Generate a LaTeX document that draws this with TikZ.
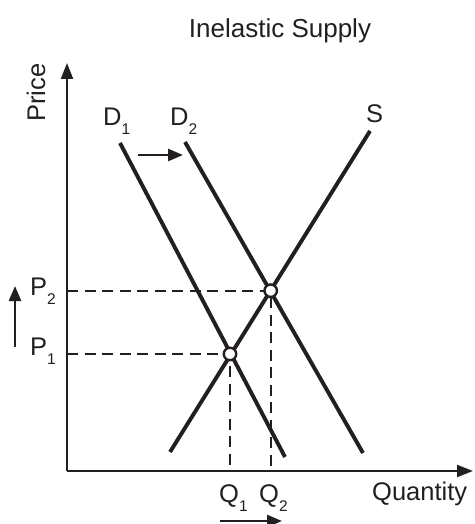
\documentclass[tikz,border=0pt]{standalone}
\usepackage{fontspec}
\setmainfont{Liberation Sans}
\usetikzlibrary{arrows.meta}
\definecolor{ink}{HTML}{231F20}
\newcommand{\sublab}[2]{#1\raisebox{-9pt}{\fontsize{15.5}{15.5}\selectfont #2}}
\tikzset{
  axis/.style={line width=2.3pt, draw=ink, -{Triangle[length=16pt,width=12pt]}},
  curve/.style={line width=3.9pt, draw=ink},
  guide/.style={line width=1.8pt, draw=ink, dash pattern=on 11pt off 6.5pt},
  shiftarrow/.style={line width=2.6pt, draw=ink, -{Triangle[length=15pt,width=12pt]}},
  eq/.style={circle, draw=ink, fill=white, line width=2.4pt, minimum size=12.5pt, inner sep=0pt},
  lab/.style={anchor=base west, inner sep=0pt, text=ink},
}
\begin{document}
\begin{tikzpicture}[x=1pt, y=-1pt, font=\fontsize{25.5}{30}\selectfont]
\useasboundingbox (0,0) rectangle (474,524);
% axes
\coordinate (O) at (67,471);
\coordinate (ytop) at (67,63);
\coordinate (xend) at (473,471);
% equilibria
\coordinate (E1pt) at (230,354);
\coordinate (E2pt) at (270.7,290.7);
\coordinate (P1y) at (67,354);
\coordinate (P2y) at (67,290.7);
\coordinate (Q1x) at (230,471);
\coordinate (Q2x) at (270.7,471);
% curve ends
\coordinate (D1a) at (120,143);
\coordinate (D1b) at (285,457);
\coordinate (D2a) at (185,142);
\coordinate (D2b) at (363,453);
\coordinate (Sa) at (170,452);
\coordinate (Sb) at (370,131);
% guides
\draw[guide] (P2y) -- (E2pt) -- (Q2x);
\draw[guide] (P1y) -- (E1pt) -- (Q1x);
% axes
\draw[axis] (O) -- (ytop);
\draw[axis] (O) -- (xend);
% curves
\draw[curve] (D1a) -- (D1b);
\draw[curve] (D2a) -- (D2b);
\draw[curve] (Sa) -- (Sb);
% equilibrium markers
\node[eq] (E1) at (E1pt) {};
\node[eq] (E2) at (E2pt) {};
% shift arrows
\coordinate (dsA) at (138,155);
\coordinate (dsB) at (183,155);
\coordinate (psA) at (15,347);
\coordinate (psB) at (15,286);
\coordinate (qsA) at (220,521);
\coordinate (qsB) at (282,521);
\draw[shiftarrow] (dsA) -- (dsB);
\draw[shiftarrow] (psA) -- (psB);
\draw[shiftarrow] (qsA) -- (qsB);
% labels
\node[anchor=base, inner sep=0pt, text=ink, font=\fontsize{26}{30}\selectfont] (title) at (280,38) {Inelastic Supply};
\node[rotate=90, anchor=base, inner sep=0pt, text=ink] (price) at (45,92.5) {Price};
\node[lab] (qty) at (372,500) {Quantity};
\node[lab] (d1) at (103,125) {\sublab{D}{1}};
\node[lab] (d2) at (170,125) {\sublab{D}{2}};
\node[lab] (s) at (366,122) {S};
\node[lab] (p2) at (30,295) {\sublab{P}{2}};
\node[lab] (p1) at (30,355) {\sublab{P}{1}};
\node[lab] (q1) at (219,502) {\sublab{Q}{1}};
\node[lab] (q2) at (259,502) {\sublab{Q}{2}};
\end{tikzpicture}
\end{document}
